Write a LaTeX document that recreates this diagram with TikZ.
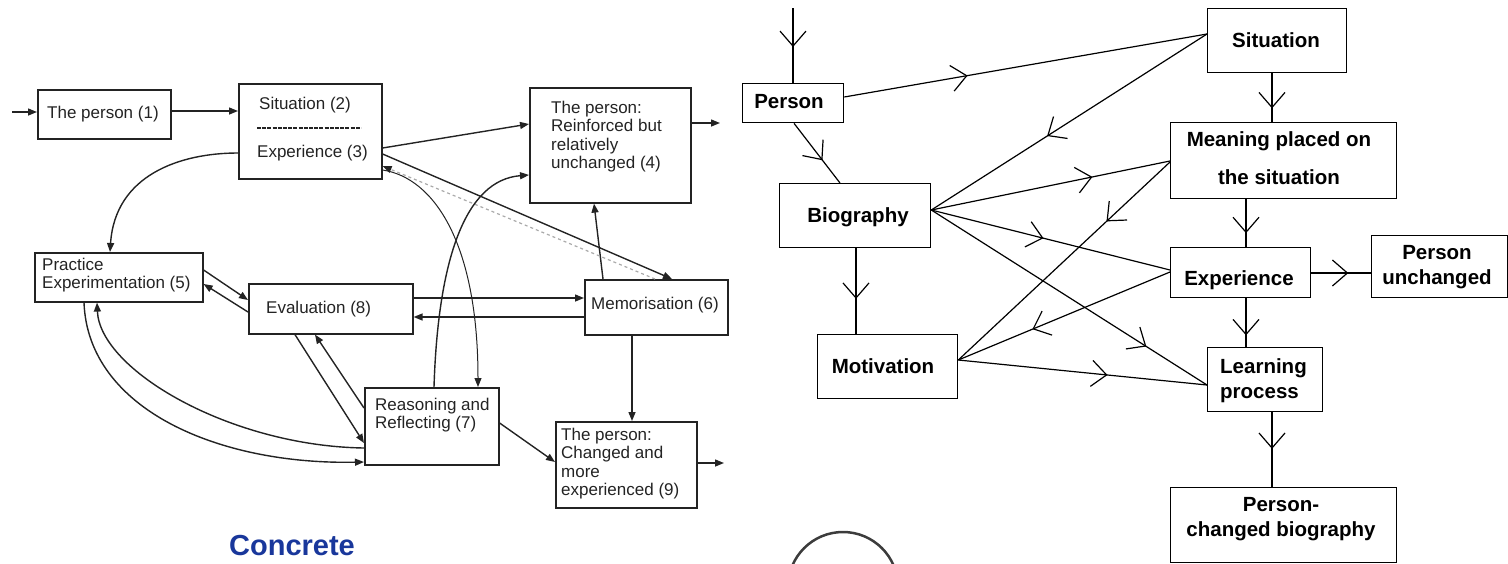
\documentclass[tikz,border=0pt]{standalone}
\usepackage{fontspec}
\setmainfont{Liberation Sans}
\usetikzlibrary{arrows.meta,decorations.markings,calc}
\definecolor{ink}{RGB}{35,35,35}
\definecolor{concrete}{RGB}{25,55,155}
\definecolor{faint}{RGB}{170,170,170}
\tikzset{
 lbox/.style={draw=ink, line width=1.6pt, inner sep=0pt, anchor=north west},
 ltxt/.style={inner sep=0pt, anchor=north west, align=left, text=ink, font=\fontsize{17}{18.5}\selectfont},
 larr/.style={draw=ink, line width=1.4pt, -{Triangle[length=9pt,width=7pt]}},
 rbox/.style={draw=black, line width=1.3pt, inner sep=0pt, anchor=north west},
 rtxt/.style={inner sep=0pt, align=center, font=\fontsize{20.5}{25}\bfseries\selectfont},
 rline/.style={draw=black, line width=1.2pt},
 chev/.style={rline, postaction={decorate}, decoration={markings, mark=at position #1 with {\arrow[line width=1.2pt]{Straight Barb[length=15pt,width=26pt]}}}},
}
\begin{document}
\begin{tikzpicture}[x=1pt,y=-1pt]
\useasboundingbox (0,0) rectangle (1508,563);
%%%%%%%%%%%% LEFT DIAGRAM %%%%%%%%%%%%
\node[lbox, minimum width=133pt, minimum height=49pt] (p1) at (37,89) {};
\node[lbox, minimum width=143pt, minimum height=95pt] (sit) at (238,83) {};
\node[lbox, minimum width=161pt, minimum height=115pt] (b4) at (529,87) {};
\node[lbox, minimum width=168pt, minimum height=49pt] (b5) at (34,252) {};
\node[lbox, minimum width=164pt, minimum height=50pt] (b8) at (248,283) {};
\node[lbox, minimum width=143pt, minimum height=55pt] (b6) at (584,279) {};
\node[lbox, minimum width=134pt, minimum height=77pt] (b7) at (364,387) {};
\node[lbox, minimum width=141pt, minimum height=86pt] (b9) at (555,421) {};

\node[ltxt] (t1) at (47,105.5) {The person (1)};
\node[ltxt] (t2) at (259,96.5) {Situation (2)};
\draw[ink, line width=1.2pt, dash pattern=on 4pt off 1.2pt] ($(sit.north west)+(19,45)$) -- ($(sit.north west)+(123,45)$);
\node[ltxt] (t3) at (257,144.5) {Experience (3)};
\node[ltxt] (t4) at (551,100.5) {The person:\\Reinforced but\\relatively\\unchanged (4)};
\node[ltxt] (t5) at (42,257.5) {Practice\\Experimentation (5)};
\node[ltxt] (t8) at (266,300.5) {Evaluation (8)};
\node[ltxt] (t6) at (591,296.5) {Memorisation (6)};
\node[ltxt] (t7) at (375,397.5) {Reasoning and\\Reflecting (7)};
\node[ltxt] (t9) at (561,427.5) {The person:\\Changed and\\more\\experienced (9)};
\node[text=concrete, inner sep=0pt, font=\fontsize{29}{32}\bfseries\selectfont] (conc) at (292,546) {Concrete};

\coordinate (in1) at (12,112);
\draw[larr] (in1) -- (in1 -| p1.west);
\draw[larr] (p1.east |- 0,111) -- (sit.west |- 0,111);
\draw[larr] (sit.east |- 0,148) -- (b4.west |- 0,124);
\coordinate (out4) at (720,123);
\draw[larr] (b4.east |- out4) -- (out4);
\draw[larr] (sit.west |- 0,153) .. controls (180,153) and (115,175) .. (b5.north -| 110,0);
\draw[larr] (b5.east |- 0,270) -- (b8.west |- 0,300);
\draw[larr] (b8.west |- 0,312) -- (b5.east |- 0,284);
\draw[larr] (b8.east |- 0,298) -- (b6.west |- 0,298);
\draw[larr] (b6.west |- 0,317) -- (b8.east |- 0,317);
\draw[larr] (b8.south -| 295,0) -- (b7.west |- 0,443);
\draw[larr] (b7.west |- 0,408) -- (b8.south -| 315,0);
\draw[larr] (b5.south -| 84,0) .. controls (88,410) and (220,465) .. (b7.west |- 0,462);
\draw[larr] (b7.west |- 0,448) .. controls (230,446) and (100,370) .. (b5.south -| 97,0);
\draw[larr] (b6.north -| 603,0) -- (b4.south -| 594,0);
\draw[larr] (sit.east |- 0,154) -- (b6.north -| 672,0);
\draw[faint, line width=1.2pt, dashed, -{Triangle[length=9pt,width=7pt,color=ink]}] (b6.north -| 655,0) -- (sit.east |- 0,166);
\draw[larr] (b7.north -| 434,0) .. controls (438,260) and (465,180) .. (b4.west |- 0,175);
\draw[larr, line width=1pt] (sit.east |- 0,170) .. controls (435,178) and (478,245) .. (b7.north -| 478,0);
\draw[larr] (b6.south -| 632,0) -- (b9.north -| 632,0);
\draw[larr] (b7.east |- 0,423) -- (b9.west |- 0,462);
\coordinate (out9) at (724,463);
\draw[larr] (b9.east |- out9) -- (out9);

%%%%%%%%%%%% RIGHT DIAGRAM %%%%%%%%%%%%
\node[rbox, minimum width=101pt, minimum height=39pt] (person) at (742,83) {};
\node[rbox, minimum width=139pt, minimum height=64pt] (sitR) at (1207,8) {};
\node[rbox, minimum width=226pt, minimum height=76pt] (mean) at (1170,122) {};
\node[rbox, minimum width=151pt, minimum height=64pt] (bio) at (779,183) {};
\node[rbox, minimum width=140pt, minimum height=50pt] (exp) at (1170,247) {};
\node[rbox, minimum width=136pt, minimum height=62pt] (unch) at (1371,235) {};
\node[rbox, minimum width=140pt, minimum height=64pt] (mot) at (817,334) {};
\node[rbox, minimum width=115pt, minimum height=64pt] (learn) at (1207,347) {};
\node[rbox, minimum width=226pt, minimum height=75pt] (pcb) at (1170,487) {};

\node[rtxt, anchor=base] (tperson) at (789,108) {Person};
\node[rtxt, anchor=base] (tsit) at (1276,47) {Situation};
\node[rtxt, font=\fontsize{20.5}{38}\bfseries\selectfont] (tmean) at (1279,158.5) {Meaning placed on\\the situation};
\node[rtxt, anchor=base] (tbio) at (858,222) {Biography};
\node[rtxt, anchor=base] (texp) at (1239,285) {Experience};
\node[rtxt] (tunch) at (1437,267) {Person\\unchanged};
\node[rtxt, anchor=base] (tmot) at (883,373) {Motivation};
\node[rtxt, align=left, anchor=west] (tlearn) at (1220,380.5) {Learning\\process};
\node[rtxt] (tpcb) at (1281,519) {Person-\\changed biography};

\coordinate (inR) at (793,8);
\draw[chev=0.52] (inR) -- (inR |- person.north);
\draw[chev=0.34] (person.east |- 0,97) -- (sitR.west |- 0,34);
\draw[chev=0.58] (sitR.west |- 0,34) -- (bio.east |- 0,210);
\draw[chev=0.675] (bio.east |- 0,210) -- (mean.west |- 0,161);
\draw[chev=0.47] (bio.east |- 0,210) -- (exp.west |- 0,270);
\draw[chev=0.78] (bio.east |- 0,210) -- (learn.west |- 0,385);
\draw[chev=0.3] (mean.west |- 0,162) -- (mot.east |- 0,360);
\draw[chev=0.65] (exp.west |- 0,272) -- (mot.east |- 0,360);
\draw[chev=0.6] (mot.east |- 0,360) -- (learn.west |- 0,385);
\draw[chev=0.62] (person.south -| 794,0) -- (bio.north -| 840,0);
\draw[chev=0.59] (bio.south -| 856,0) -- (mot.north -| 856,0);
\draw[chev=0.72] (sitR.south -| 1272,0) -- (mean.north -| 1272,0);
\draw[chev=0.71] (mean.south -| 1246,0) -- (exp.north -| 1246,0);
\draw[chev=0.62] (exp.east |- 0,273) -- (unch.west |- 0,273);
\draw[chev=0.76] (exp.south -| 1246,0) -- (learn.north -| 1246,0);
\draw[chev=0.49] (learn.south -| 1272,0) -- (pcb.north -| 1272,0);

\begin{scope}
\clip (0,0) rectangle (1508,563);
\draw[line width=2.5pt, draw={rgb,255:red,60;green,60;blue,60}] (843,587) circle[radius=55pt];
\end{scope}
\end{tikzpicture}
\end{document}
